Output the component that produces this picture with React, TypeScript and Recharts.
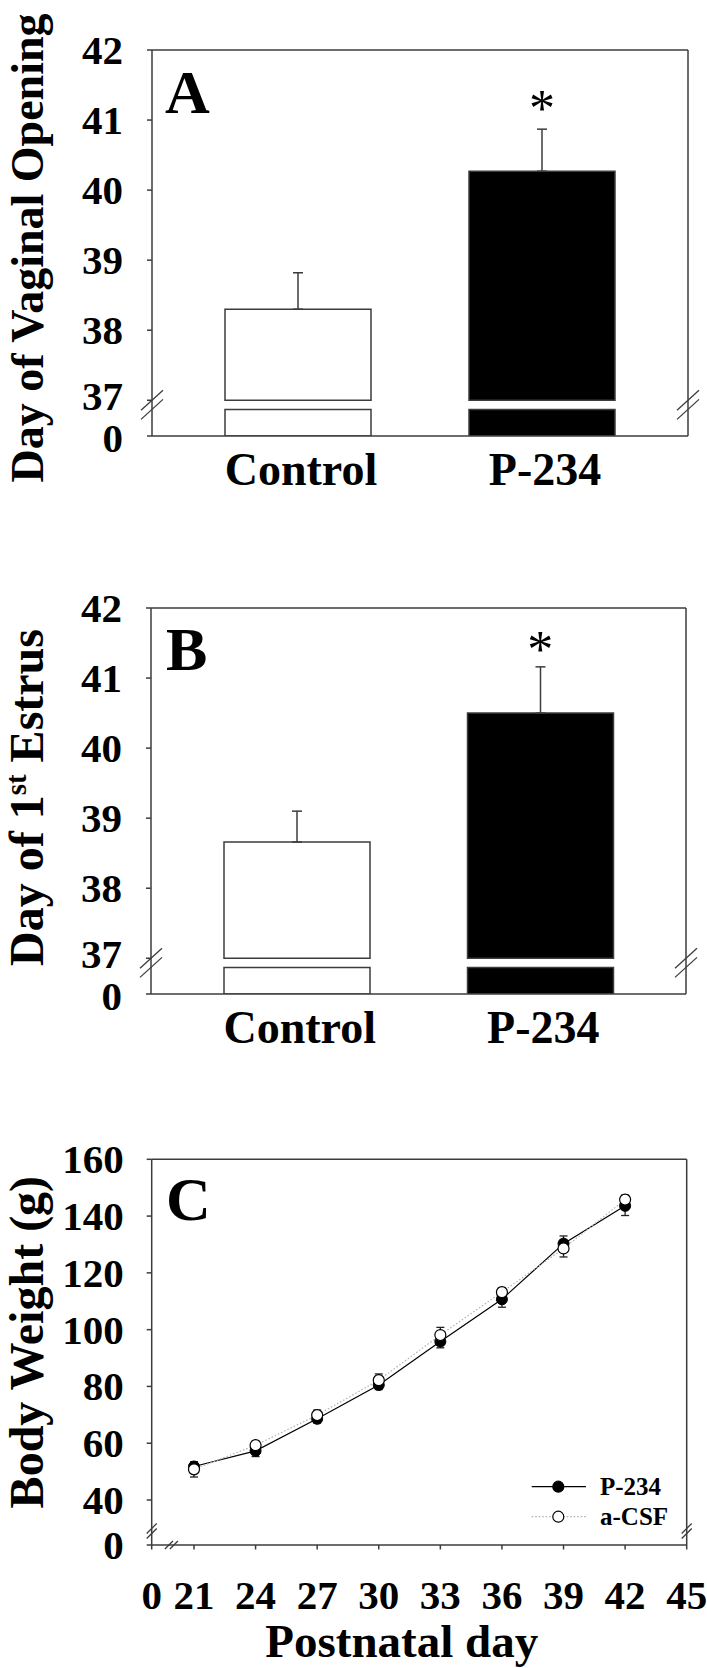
import React from 'react'
import {
  BarChart, Bar, Cell, XAxis, YAxis, ErrorBar, ReferenceDot, Label,
  LineChart, Line, Legend,
} from 'recharts'

const FONT = '"Liberation Serif", "Times New Roman", serif'
const INK = '#3c3c3c'

// panels A and B
const groups = ['Control', 'P-234']
const groupFill = ['#ffffff', '#000000']
const vaginalMean = [38.3, 40.27]
const vaginalSem = [0.52, 0.6]
const estrusMean = [38.66, 40.5]
const estrusSem = [0.44, 0.66]
const vaginalStar = 41.26
const estrusStar = 41.51
const barTicks = [37, 38, 39, 40, 41, 42]

// broken y axis of A/B: "0" sits on the bottom line, the stub ends just under 37
const AB_ZERO = 36.49
const AB_STUB = 36.87
const AB_BREAK = 37

// panel C
const days = [21, 24, 27, 30, 33, 36, 39, 42]
const p234Weight = [51.8, 57.3, 68.6, 80.5, 95.8, 110.7, 130.3, 143.6]
const p234Sem = [1.5, 2.0, 1.5, 1.6, 2.2, 2.8, 2.7, 3.4]
const acsfWeight = [50.8, 59.3, 69.9, 82.2, 98.1, 113.2, 128.6, 145.8]
const acsfSem = [2.7, 1.5, 1.8, 2.2, 2.7, 1.5, 3.0, 1.6]
const weightTicks = [40, 60, 80, 100, 120, 140, 160]
const dayTicks = [21, 24, 27, 30, 33, 36, 39, 42, 45]

// broken axes of C
const W_ZERO = 24.15
const W_BREAK = 29.1
const D_ZERO = 18.94
const D_BREAK = 19.9

const barRows = (means: number[], sems: number[]) =>
  groups.map((g, i) => ({
    group: g,
    stub: [AB_ZERO, AB_STUB],
    upper: [AB_BREAK, means[i]],
    err: [0, sems[i]],
  }))

const weightRows = days.map((d, i) => ({
  day: d,
  p234: p234Weight[i],
  pErr: p234Sem[i],
  acsf: acsfWeight[i],
  aErr: acsfSem[i],
}))

function Slash({ x, y, dx, dy }: { x: number; y: number; dx: number; dy: number }) {
  return <line x1={x - dx} y1={y + dy} x2={x + dx} y2={y - dy} stroke={INK} strokeWidth={1.3} />
}

function BarYTick(props: any) {
  const { x, y, payload } = props
  const v = payload.value
  if (v === AB_STUB) return <Slash x={x} y={y} dx={11} dy={10} />
  // the 37 and 0 labels sit very close, nudge them apart a little
  const nudge = v === AB_BREAK ? -4 : v === AB_ZERO ? 2 : 0
  return (
    <g>
      <line x1={x - 5} y1={y} x2={x} y2={y} stroke={INK} strokeWidth={1.5} />
      {v === AB_BREAK && <Slash x={x} y={y} dx={11} dy={10} />}
      <text x={x - 29} y={y + nudge} dy="0.34em" textAnchor="end" fontFamily={FONT} fontWeight="bold" fontSize={41} fill="#000">
        {v === AB_ZERO ? '0' : v}
      </text>
    </g>
  )
}

function BarRightTick(props: any) {
  const { x, y } = props
  return <Slash x={x} y={y} dx={11} dy={10} />
}

function GroupTick(props: any) {
  const { x, y, payload } = props
  return (
    <text x={x + 3} y={y + 49} textAnchor="middle" fontFamily={FONT} fontWeight="bold" fontSize={46} fill="#000">
      {payload.value}
    </text>
  )
}

function axisTitle(text: React.ReactNode, shiftY: number, size = 48) {
  return (p: any) => {
    const vb = p.viewBox || {}
    const cx = (vb.x ?? 0) + 43
    const cy = (vb.y ?? 0) + (vb.height ?? 0) / 2 + shiftY
    return (
      <text x={cx} y={cy} transform={`rotate(-90 ${cx} ${cy})`} textAnchor="middle"
        fontFamily={FONT} fontWeight="bold" fontSize={size} fill="#000">
        {text}
      </text>
    )
  }
}

function Star(p: any) {
  return (
    <text x={p.cx} y={p.cy} dy="0.47em" textAnchor="middle" fontFamily={FONT} fontSize={52} fill="#000">*</text>
  )
}

function BarPanel({ means, sems, star, title, shiftY, titleSize, left, right }: any) {
  const rows = barRows(means, sems)
  return (
    <BarChart width={707} height={520} data={rows} margin={{ top: 0, right: 0, bottom: 0, left: 0 }}>
      <XAxis xAxisId="b" dataKey="group" height={84} padding={{ left: 24, right: 24 }}
        axisLine={{ stroke: INK, strokeWidth: 1.5 }} tickLine={false} tickSize={0} tickMargin={0}
        tick={<GroupTick />} interval={0} />
      <XAxis xAxisId="t" dataKey="group" orientation="top" height={50} padding={{ left: 24, right: 24 }}
        axisLine={{ stroke: INK, strokeWidth: 1.5 }} tickLine={false} tick={false} />
      <YAxis yAxisId="l" type="number" width={left} domain={[AB_ZERO, 42]} allowDataOverflow
        ticks={[AB_ZERO, AB_STUB, ...barTicks]} interval={0} tickSize={0} tickMargin={0} tickLine={false}
        axisLine={{ stroke: INK, strokeWidth: 1.5 }} tick={<BarYTick />}>
        <Label content={axisTitle(title, shiftY, titleSize)} />
      </YAxis>
      <YAxis yAxisId="r" orientation="right" type="number" width={right} domain={[AB_ZERO, 42]} allowDataOverflow
        ticks={[AB_STUB, AB_BREAK]} interval={0} tickSize={0} tickMargin={0} tickLine={false}
        axisLine={{ stroke: INK, strokeWidth: 1.5 }} tick={<BarRightTick />} />
      <Bar xAxisId="b" yAxisId="l" dataKey="stub" barSize={146} stroke={INK} strokeWidth={1.5} isAnimationActive={false}>
        {rows.map((_, i) => <Cell key={`s-${i}`} fill={groupFill[i]} />)}
      </Bar>
      <Bar xAxisId="t" yAxisId="l" dataKey="upper" barSize={146} stroke={INK} strokeWidth={1.5} isAnimationActive={false}>
        {rows.map((_, i) => <Cell key={`u-${i}`} fill={groupFill[i]} />)}
        <ErrorBar dataKey="err" width={5} stroke={INK} strokeWidth={1.5} direction="y" />
      </Bar>
      <ReferenceDot xAxisId="t" yAxisId="l" x="P-234" y={star} r={1} shape={<Star />} />
    </BarChart>
  )
}

function WeightTick(props: any) {
  const { x, y, payload } = props
  const v = payload.value
  if (v === W_BREAK)
    return (
      <g>
        <Slash x={x} y={y - 2.5} dx={5} dy={5} />
        <Slash x={x} y={y + 2.5} dx={5} dy={5} />
      </g>
    )
  return (
    <g>
      <line x1={x - 5} y1={y} x2={x} y2={y} stroke={INK} strokeWidth={1.5} />
      <text x={x - 28} y={y} dy="0.34em" textAnchor="end" fontFamily={FONT} fontWeight="bold" fontSize={41} fill="#000">
        {v === W_ZERO ? '0' : v}
      </text>
    </g>
  )
}

function WeightRightTick(props: any) {
  const { x, y } = props
  return (
    <g>
      <Slash x={x} y={y - 2.5} dx={5} dy={5} />
      <Slash x={x} y={y + 2.5} dx={5} dy={5} />
    </g>
  )
}

function DayTick(props: any) {
  const { x, y, payload } = props
  const v = payload.value
  if (v === D_BREAK)
    return (
      <g>
        <Slash x={x - 2.5} y={y} dx={4} dy={4} />
        <Slash x={x + 2.5} y={y} dx={4} dy={4} />
      </g>
    )
  return (
    <g>
      <line x1={x} y1={y} x2={x} y2={y + 4.5} stroke={INK} strokeWidth={1.5} />
      <text x={x} y={y + 64} textAnchor="middle" fontFamily={FONT} fontWeight="bold" fontSize={41} fill="#000">
        {v === D_ZERO ? '0' : v}
      </text>
    </g>
  )
}

function TopDayTick(props: any) {
  const { x, y } = props
  return (
    <g>
      <Slash x={x - 2.5} y={y} dx={4} dy={4} />
      <Slash x={x + 2.5} y={y} dx={4} dy={4} />
    </g>
  )
}

function xTitle(p: any) {
  const vb = p.viewBox || {}
  const cx = (vb.x ?? 0) + (vb.width ?? 0) / 2 - 17.5
  const cy = (vb.y ?? 0) + 112
  return (
    <text x={cx} y={cy} textAnchor="middle" fontFamily={FONT} fontWeight="bold" fontSize={47} fill="#000">
      Postnatal day
    </text>
  )
}

const legendLook: Record<string, { fill: string; stroke: string; dash?: string }> = {
  p234: { fill: '#000', stroke: '#000' },
  acsf: { fill: '#fff', stroke: '#b0b0b0', dash: '1.5 2' },
}

function LegendBox(props: any) {
  const items = props.payload || []
  return (
    <svg width={180} height={60}>
      {items.map((it: any, i: number) => {
        const look = legendLook[it.dataKey] || legendLook.p234
        const cy = 16.7 + i * 30
        return (
          <g key={it.dataKey}>
            <line x1={3.7} y1={cy} x2={58} y2={cy} stroke={look.stroke} strokeWidth={1.2} strokeDasharray={look.dash} />
            <circle cx={30.3} cy={cy} r={5.5} fill={look.fill} stroke="#000" strokeWidth={1.2} />
            <text x={72} y={cy} dy="0.34em" fontFamily={FONT} fontWeight="bold" fontSize={25} fill="#000">{it.value}</text>
          </g>
        )
      })}
    </svg>
  )
}

function WeightPanel() {
  return (
    <LineChart width={707} height={568} data={weightRows} margin={{ top: 0, right: 0, bottom: 0, left: 0 }}>
      <XAxis xAxisId="b" dataKey="day" type="number" domain={[D_ZERO, 45]} allowDataOverflow height={123}
        ticks={[D_ZERO, D_BREAK, ...dayTicks]} interval={0} tickSize={0} tickMargin={0} tickLine={false}
        axisLine={{ stroke: INK, strokeWidth: 1.5 }} tick={<DayTick />}>
        <Label content={xTitle} />
      </XAxis>
      <XAxis xAxisId="t" orientation="top" type="number" domain={[D_ZERO, 45]} allowDataOverflow height={59.3}
        ticks={[D_BREAK]} interval={0} tickSize={0} tickMargin={0} tickLine={false}
        axisLine={{ stroke: INK, strokeWidth: 1.5 }} tick={<TopDayTick />} />
      <YAxis yAxisId="l" type="number" width={151.7} domain={[W_ZERO, 160]} allowDataOverflow
        ticks={[W_ZERO, W_BREAK, ...weightTicks]} interval={0} tickSize={0} tickMargin={0} tickLine={false}
        axisLine={{ stroke: INK, strokeWidth: 1.5 }} tick={<WeightTick />}>
        <Label content={axisTitle('Body Weight (g)', -10)} />
      </YAxis>
      <YAxis yAxisId="r" orientation="right" type="number" width={20.3} domain={[W_ZERO, 160]} allowDataOverflow
        ticks={[W_BREAK]} interval={0} tickSize={0} tickMargin={0} tickLine={false}
        axisLine={{ stroke: INK, strokeWidth: 1.5 }} tick={<WeightRightTick />} />
      <Line xAxisId="b" yAxisId="l" dataKey="p234" name="P-234" stroke="#000" strokeWidth={1.2}
        dot={{ r: 5.5, fill: '#000', stroke: '#000', strokeWidth: 1 }} isAnimationActive={false}>
        <ErrorBar dataKey="pErr" width={4} stroke="#222" strokeWidth={1.3} direction="y" />
      </Line>
      <Line xAxisId="b" yAxisId="l" dataKey="acsf" name="a-CSF" stroke="#b0b0b0" strokeWidth={1.2} strokeDasharray="1.5 2"
        dot={{ r: 5.5, fill: '#fff', stroke: '#000', strokeWidth: 1.2, strokeDasharray: '' }} isAnimationActive={false}>
        <ErrorBar dataKey="aErr" width={4} stroke="#222" strokeWidth={1.3} direction="y" />
      </Line>
      <Legend layout="horizontal" verticalAlign="middle" align="center"
        wrapperStyle={{ left: 528, top: 370, width: 180, height: 60 }}
        content={(p: any) => <LegendBox payload={p.payload} />} />
    </LineChart>
  )
}

const letterStyle: React.CSSProperties = {
  position: 'absolute', fontFamily: FONT, fontWeight: 'bold', fontSize: 62, lineHeight: '62px', color: '#000',
}

export default function App() {
  return (
    <div style={{ position: 'absolute', left: 0, top: 0, width: 707, height: 1668, background: '#fff', overflow: 'hidden' }}>
      <div style={{ position: 'absolute', left: 0, top: 0 }}>
        <BarPanel means={vaginalMean} sems={vaginalSem} star={vaginalStar} title="Day of Vaginal Opening"
          shiftY={5} titleSize={46} left={152} right={19} />
      </div>
      <div style={{ position: 'absolute', left: 0, top: 558 }}>
        <BarPanel means={estrusMean} sems={estrusSem} star={estrusStar}
          title={<>Day of 1<tspan dy={-17} fontSize={29}>st</tspan><tspan dy={17}> Estrus</tspan></>}
          shiftY={-3.5} titleSize={48} left={151} right={21} />
      </div>
      <div style={{ position: 'absolute', left: 0, top: 1100 }}>
        <WeightPanel />
      </div>
      <div style={{ ...letterStyle, left: 165, top: 61 }}>A</div>
      <div style={{ ...letterStyle, left: 166, top: 618 }}>B</div>
      <div style={{ ...letterStyle, left: 166, top: 1168 }}>C</div>
    </div>
  )
}
